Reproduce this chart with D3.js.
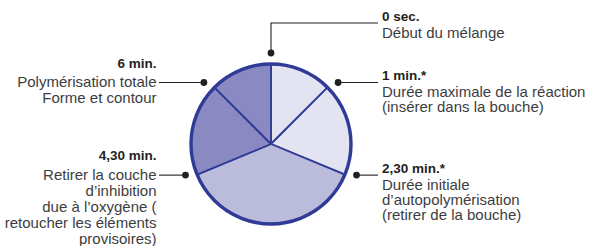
<!DOCTYPE html>
<html>
<head>
<meta charset="utf-8">
<script src="https://cdn.jsdelivr.net/npm/d3@7"></script>
<style>
  body { margin: 0; background: #fff; }
  text { font-family: "Liberation Sans", Arial, sans-serif; }
</style>
</head>
<body>
<svg id="chart"></svg>
<script>
(function () {
    const width = 589, height = 246;

    // stages of the setting timeline (minutes between markers)
    const durations = [1, 1.5, 3, 1.5, 1];
    const times = ["0 sec.", "1 min.*", "2,30 min.*", "4,30 min.", "6 min."];
    const descriptions = [
        ["Début du mélange"],
        ["Durée maximale de la réaction", "(insérer dans la bouche)"],
        ["Durée initiale", "d\u2019autopolymérisation", "(retirer de la bouche)"],
        ["Retirer la couche", "d\u2019inhibition", "due à l\u2019oxygène (", "retoucher les éléments", "provisoires)"],
        ["Polymérisation totale", "Forme et contour"]
    ];
    const shades = ["#e3e3f1", "#e3e3f1", "#bbbbdb", "#8a89c1", "#8a89c1"];

    const cx = 271, cy = 144, radius = 80;
    const ink = "#231f20", blue = "#2f3b96";

    const svg = d3.select("#chart")
        .attr("width", width)
        .attr("height", height);

    const g = svg.append("g").attr("transform", `translate(${cx},${cy})`);

    const pie = d3.pie().sort(null).value(d => d);
    const arcs = pie(durations);
    const arc = d3.arc().innerRadius(0).outerRadius(radius);

    g.selectAll("path.slice")
        .data(arcs)
        .enter()
        .append("path")
        .attr("class", "slice")
        .attr("d", arc)
        .style("fill", (d, i) => shades[i])
        .style("stroke", blue)
        .style("stroke-width", 1.8)
        .style("stroke-linejoin", "round");

    g.append("circle")
        .attr("r", radius)
        .style("fill", "none")
        .style("stroke", blue)
        .style("stroke-width", 3.4);

    // markers sit just outside the ring at the start of each slice,
    // pulled a little toward the horizontal so the leaders clear the ring
    const pull = 2.5 * Math.PI / 180;
    const markers = arcs.map((a, i) => {
        let ang = a.startAngle;
        if (ang > 0) {
            const horiz = ang < Math.PI ? Math.PI / 2 : 3 * Math.PI / 2;
            ang += ang < horiz ? pull : -pull;
        }
        const p = d3.pointRadial(ang, radius + 11);
        return { x: cx + p[0], y: cy + p[1], angle: a.startAngle, i: i };
    });

    const rightX = 382, leftX = 156.5;

    markers.forEach(m => {
        let leaderY, side;
        if (m.angle === 0) {
            leaderY = 23;
            side = "right";
            svg.append("path")
                .attr("d", `M${m.x},${m.y}V${leaderY}H${rightX - 4}`)
                .style("fill", "none").style("stroke", ink).style("stroke-width", 1.1);
        } else if (m.angle < Math.PI) {
            leaderY = m.y;
            side = "right";
            svg.append("line")
                .attr("x1", m.x).attr("y1", leaderY)
                .attr("x2", rightX - 4).attr("y2", leaderY)
                .style("stroke", ink).style("stroke-width", 1.1);
        } else {
            leaderY = m.y;
            side = "left";
            svg.append("line")
                .attr("x1", leftX + 2.5).attr("y1", leaderY)
                .attr("x2", m.x).attr("y2", leaderY)
                .style("stroke", ink).style("stroke-width", 1.1);
        }

        svg.append("circle")
            .attr("cx", m.x).attr("cy", m.y).attr("r", 3.4)
            .style("fill", ink);

        const lines = descriptions[m.i];
        let boldY, firstY, step;
        if (side === "right") {
            boldY = leaderY - 2.2;
            firstY = boldY + 16.8;
            step = 15;
        } else {
            firstY = leaderY + 4.5;
            boldY = firstY - 19.5;
            step = 16;
        }
        const tx = side === "right" ? rightX : leftX;
        const anchor = side === "right" ? "start" : "end";

        svg.append("text")
            .attr("x", tx).attr("y", boldY)
            .attr("text-anchor", anchor)
            .style("font-size", "13.5px")
            .style("font-weight", "bold")
            .style("fill", ink)
            .text(times[m.i]);

        svg.selectAll(null)
            .data(lines)
            .enter()
            .append("text")
            .attr("x", tx)
            .attr("y", (d, k) => firstY + k * step)
            .attr("text-anchor", anchor)
            .style("font-size", "15px")
            .style("fill", "#3d3d3f")
            .text(d => d);
    });
})();
</script>
</body>
</html>
